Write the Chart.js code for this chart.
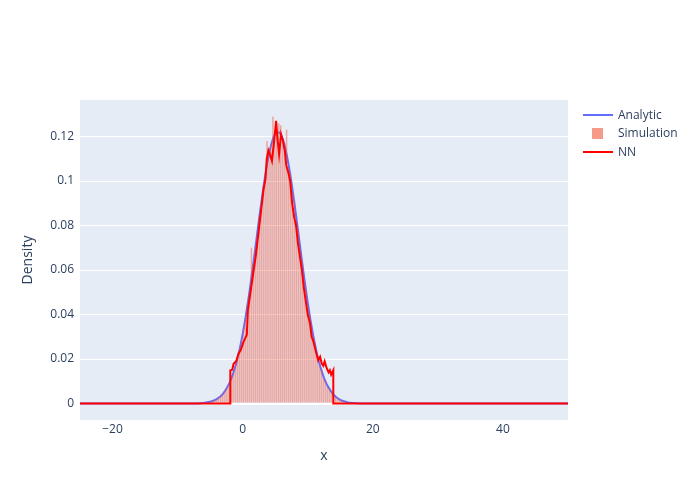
<!DOCTYPE html>
<html lang="en">
  <head>
    <meta charset="UTF-8" />
    <title>Density</title>
    <script src="https://cdn.jsdelivr.net/npm/chart.js"></script>
    <style>
      html, body { margin: 0; padding: 0; background: #ffffff; }
      #wrap { position: relative; width: 700px; height: 500px; font-family: "Open Sans", sans-serif; color: #2a3f5f; }
      #chart { position: absolute; left: 0; top: 0; }
      .leg { position: absolute; font-size: 12px; line-height: 14px; white-space: nowrap; }
      .legline { position: absolute; width: 30px; height: 2px; }
      .legbox { position: absolute; width: 11px; height: 11px; }
    </style>
  </head>
  <body>
    <div id="wrap">
      <canvas id="chart" width="700" height="500"></canvas>
      <div class="legline" style="left:583px; top:114px; background:#636efa"></div>
      <div class="leg" style="left:618px; top:108px">Analytic</div>
      <div class="legbox" style="left:592px; top:128px; background:rgba(239,85,59,0.6)"></div>
      <div class="leg" style="left:618px; top:126px">Simulation</div>
      <div class="legline" style="left:583px; top:151px; background:#ff0000"></div>
      <div class="leg" style="left:618px; top:145px">NN</div>
    </div>

    <script>
      // analytic density curve
      const analyticX = [-25, -20, -15, -10, -8, -6, -5, -4, -3, -2,
        -1.5, -1, -0.5, 0, 0.5, 1, 1.5, 2, 2.5, 3,
        3.5, 4, 4.5, 5, 5.5, 6, 6.5, 7, 7.5, 8,
        8.5, 9, 9.5, 10, 10.5, 11, 11.5, 12, 12.5, 13,
        14, 15, 16, 17, 18, 20, 25, 30, 40, 50];
      const analyticY = [0, 0, 0, 0.00001, 0.00003, 0.00028, 0.00078, 0.00196, 0.0045, 0.0094,
        0.0132, 0.018, 0.024, 0.0312, 0.0397, 0.0493, 0.0599, 0.0711, 0.0824, 0.0932,
        0.1031, 0.1113, 0.1175, 0.1211, 0.1219, 0.12, 0.1153, 0.1082, 0.0993, 0.089,
        0.0779, 0.0666, 0.0556, 0.0453, 0.0362, 0.0282, 0.0214, 0.0159, 0.01155, 0.0082,
        0.00384, 0.00164, 0.00064, 0.00023, 0.00007, 0, 0, 0, 0, 0];

      // simulation histogram: bin centres and densities
      const binCentres = [-4.65, -4.35, -4.05, -3.75, -3.45, -3.15, -2.85, -2.55, -2.25, -1.95,
        -1.65, -1.35, -1.05, -0.75, -0.45, -0.15, 0.15, 0.45, 0.75, 1.05,
        1.35, 1.65, 1.95, 2.25, 2.55, 2.85, 3.15, 3.45, 3.75, 4.05,
        4.35, 4.65, 4.95, 5.25, 5.55, 5.85, 6.15, 6.45, 6.75, 7.05,
        7.35, 7.65, 7.95, 8.25, 8.55, 8.85, 9.15, 9.45, 9.75, 10.05,
        10.35, 10.65, 10.95, 11.25, 11.55, 11.85, 12.15, 12.45, 12.75, 13.05,
        13.35, 13.65, 13.95, 14.25, 14.55, 14.85, 15.15, 15.45, 15.75, 16.05,
        16.35, 16.65];
      const simDensity = [0.0012, 0.0016, 0.0018, 0.0028, 0.003, 0.0043, 0.0049, 0.0068, 0.0075, 0.0101,
        0.0122, 0.0139, 0.0181, 0.0203, 0.0252, 0.0283, 0.0342, 0.0381, 0.0452, 0.0497,
        0.07, 0.0628, 0.0706, 0.0759, 0.0846, 0.0892, 0.0975, 0.1008, 0.118, 0.1112,
        0.1168, 0.129, 0.1195, 0.123, 0.126, 0.125, 0.1176, 0.117, 0.123, 0.1062,
        0.1035, 0.0952, 0.0911, 0.0822, 0.078, 0.0688, 0.0641, 0.0556, 0.0512, 0.0436,
        0.0395, 0.0328, 0.0296, 0.024, 0.0214, 0.0168, 0.0151, 0.0113, 0.0104, 0.0074,
        0.0068, 0.0047, 0.0043, 0.0029, 0.0026, 0.0017, 0.0016, 0.001, 0.0009, 0.0005,
        0.0005, 0.0003];

      // NN estimate
      const nnX = [-25, -1.9, -1.9, -1.6, -1.4, -1.0, -0.64, -0.3, 0.12, 0.64,
        0.8, 1.2, 1.6, 2.0, 2.4, 2.8, 3.2, 3.5, 3.7, 3.96,
        4.2, 4.5, 4.8, 5.14, 5.35, 5.6, 5.9, 6.2, 6.5, 6.7,
        7.0, 7.3, 7.6, 7.9, 8.2, 8.5, 8.8, 9.1, 9.4, 9.7,
        10.0, 10.35, 10.6, 10.86, 11.2, 11.6, 11.9, 12.15, 12.4, 12.6,
        12.9, 13.2, 13.4, 13.6, 13.93, 13.93, 50];
      const nnY = [0, 0, 0.0149, 0.0152, 0.0179, 0.019, 0.0224, 0.024, 0.0276, 0.031,
        0.042, 0.05, 0.058, 0.066, 0.076, 0.086, 0.096, 0.101, 0.11, 0.1138,
        0.112, 0.109, 0.117, 0.127, 0.119, 0.112, 0.121, 0.118, 0.113, 0.107,
        0.104, 0.1, 0.09, 0.084, 0.08, 0.072, 0.066, 0.06, 0.052, 0.046,
        0.04, 0.036, 0.03, 0.028, 0.024, 0.0194, 0.021, 0.018, 0.017, 0.019,
        0.016, 0.014, 0.015, 0.013, 0.015, 0, 0];

      const xTicks = [-20, 0, 20, 40];
      const yTicks = [0, 0.02, 0.04, 0.06, 0.08, 0.1, 0.12];

      const pts = (xs, ys) => xs.map((x, i) => ({ x: x, y: ys[i] }));
      const tickFont = { family: "'Open Sans', sans-serif", size: 12 };
      const titleFont = { family: "'Open Sans', sans-serif", size: 14 };

      // plot background like plotly
      const plotBg = {
        id: "plotBg",
        beforeDraw(chart) {
          const a = chart.chartArea;
          const c = chart.ctx;
          c.save();
          c.fillStyle = "#e5ecf6";
          c.fillRect(a.left, a.top, a.right - a.left, a.bottom - a.top);
          c.restore();
        },
      };

      new Chart(document.getElementById("chart"), {
        type: "bar",
        data: {
          datasets: [
            {
              type: "line",
              label: "Analytic",
              data: pts(analyticX, analyticY),
              borderColor: "#636efa",
              borderWidth: 2,
              pointRadius: 0,
              cubicInterpolationMode: "monotone",
              order: 3,
            },
            {
              type: "bar",
              label: "Simulation",
              data: pts(binCentres, simDensity),
              backgroundColor: "rgba(239,85,59,0.45)",
              borderWidth: 0,
              barPercentage: 0.8,
              categoryPercentage: 1,
              order: 2,
            },
            {
              type: "line",
              label: "NN",
              data: pts(nnX, nnY),
              borderColor: "#ff0000",
              borderWidth: 2,
              pointRadius: 0,
              tension: 0,
              order: 1,
            },
          ],
        },
        plugins: [plotBg],
        options: {
          responsive: false,
          animation: false,
          events: [],
          layout: { padding: { top: 100, right: 132, bottom: 0, left: 0 } },
          scales: {
            x: {
              type: "linear",
              min: -25,
              max: 50,
              offset: false,
              afterBuildTicks: (s) => { s.ticks = xTicks.map((v) => ({ value: v })); },
              afterFit: (s) => { s.height = 80; },
              grid: { display: false, drawTicks: false },
              border: { display: false },
              ticks: {
                color: "#2a3f5f",
                font: tickFont,
                padding: 2,
                maxRotation: 0,
                callback: (v) => (v < 0 ? "\u2212" + Math.abs(v) : String(v)),
              },
              title: {
                display: true,
                text: "x",
                color: "#2a3f5f",
                font: titleFont,
                padding: { top: 0, bottom: 36 },
              },
            },
            y: {
              type: "linear",
              min: -0.0074,
              max: 0.1364,
              afterBuildTicks: (s) => { s.ticks = yTicks.map((v) => ({ value: v })); },
              afterFit: (s) => { s.width = 80; },
              grid: {
                color: "#ffffff",
                lineWidth: (c) => (c.tick && c.tick.value === 0 ? 2 : 1),
                drawTicks: false,
              },
              border: { display: false },
              ticks: {
                color: "#2a3f5f",
                font: tickFont,
                padding: 6,
                callback: (v) => String(v),
              },
              title: {
                display: true,
                text: "Density",
                color: "#2a3f5f",
                font: titleFont,
                padding: { top: 20, bottom: 0 },
              },
            },
          },
          plugins: {
            legend: { display: false },
            tooltip: { enabled: false },
          },
        },
      });
    </script>
  </body>
</html>
